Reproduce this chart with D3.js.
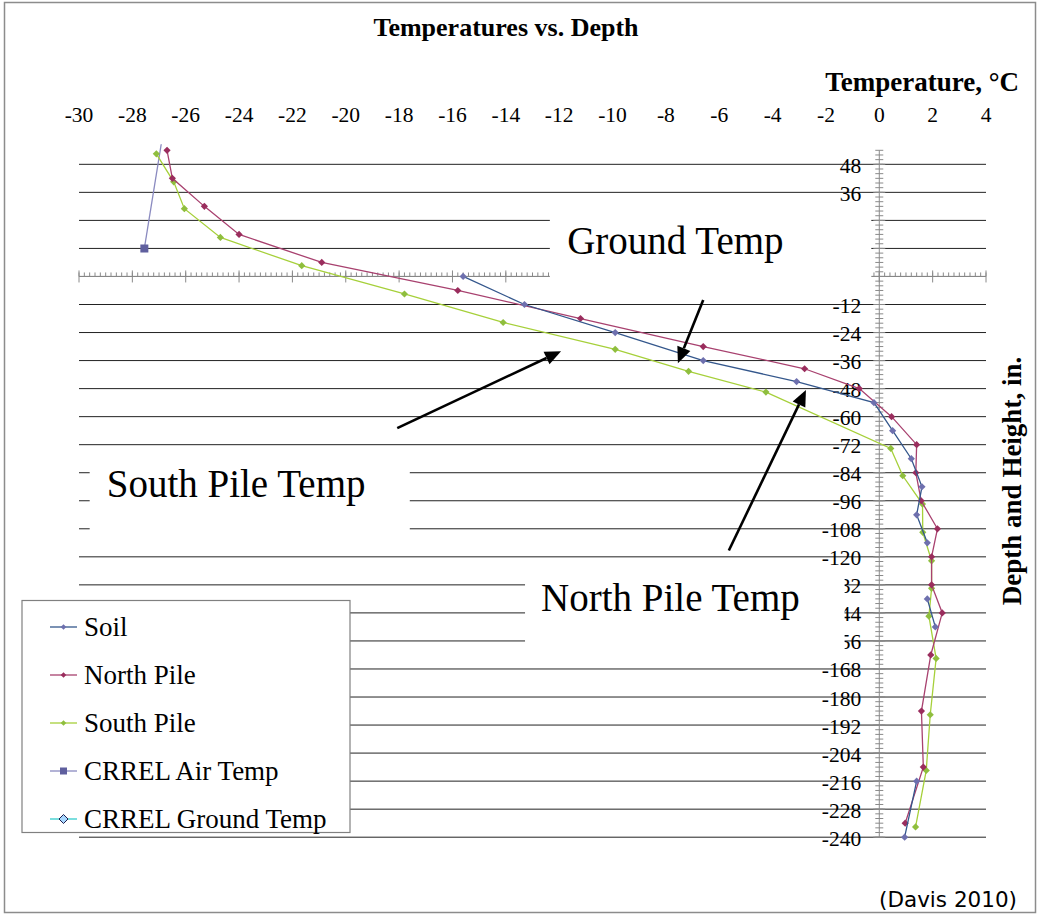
<!DOCTYPE html>
<html>
<head>
<meta charset="utf-8">
<script src="https://cdn.jsdelivr.net/npm/d3@7"></script>
<style>
  html, body { margin: 0; padding: 0; background: #fff; }
  #chart { width: 1040px; height: 915px; }
  text { font-family: 'Liberation Serif', 'Times New Roman', serif; fill: #000; }
</style>
</head>
<body>
<div id="chart"></div>
<script>
// values (temperature in C, depth/height in inches)
const tempTicks = [-30, -28, -26, -24, -22, -20, -18, -16, -14, -12, -10, -8, -6, -4, -2, 0, 2, 4];
const depthTicks = [48, 36, 24, 12, 0, -12, -24, -36, -48, -60, -72, -84, -96, -108, -120, -132, -144,
  -156, -168, -180, -192, -204, -216, -228, -240];

const soilDepth = [0, -12, -24, -36, -45, -54, -66, -78, -90, -102, -114, -126, -138, -150, -162, -216, -240];
const soilTemp = [-15.6, -13.3, -9.9, -6.6, -3.1, -0.2, 0.5, 1.2, 1.6, 1.4, 1.8, null, 1.8, 2.1, null, 1.4, 0.95];

const northDepth = [54, 42, 30, 18, 6, -6, -18, -30, -39.5, -48, -60, -72, -84, -96, -108, -120, -132, -144,
  -162, -186, -210, -234];
const northTemp = [-26.7, -26.5, -25.3, -24.0, -20.9, -15.8, -11.2, -6.6, -2.8, -0.75, 0.46, 1.4, 1.37, 1.57,
  2.18, 1.96, 1.96, 2.36, 1.93, 1.58, 1.65, 0.97];

const southDepth = [52.5, 40.5, 29, 16.7, 4.6, -7.5, -19.7, -31.2, -40.6, -49.5, -73.6, -85.3, -97.4, -109.5,
  -121.7, -133.5, -145.4, -163.5, -187.6, -211.4, -235.6];
const southTemp = [-27.1, -26.45, -26.05, -24.7, -21.65, -17.8, -14.1, -9.9, -7.15, -4.25, 0.43, 0.88, 1.62,
  1.63, 1.96, 1.96, 1.86, 2.13, 1.91, 1.76, 1.36];

const airDepth = [12, 72];
const airTemp = [-27.55, -26.7];

const crrelGroundDepth = [];
const crrelGroundTemp = [];

const seriesNames = ['Soil', 'North Pile', 'South Pile', 'CRREL Air Temp', 'CRREL Ground Temp'];

// callouts, in chart units
const callouts = [
  { text: 'Ground Temp', box: [-12.35, 30.5, -0.3, -7], at: [-11.7, 9.6], from: [-6.6, -10.1], to: [-7.55, -37.1] },
  { text: 'South Pile Temp', box: [-29.6, -76.5, -17.6, -115.5], at: [-28.96, -94.3], from: [-18.07, -64.9], to: [-11.93, -32] },
  { text: 'North Pile Temp', box: [-13.28, -123.5, -1.3, -162.5], at: [-12.68, -143.3], from: [-5.64, -117.3], to: [-2.75, -48.6] },
];

const styles = {
  'Soil': { line: '#34578C', fill: '#6E70AE', stroke: 'none', shape: 'diamond' },
  'North Pile': { line: '#A8416F', fill: '#9A2D5D', stroke: 'none', shape: 'diamond' },
  'South Pile': { line: '#A6D03A', fill: '#8FBE3E', stroke: 'none', shape: 'diamond' },
  'CRREL Air Temp': { line: '#8A8AC0', fill: '#5F5F9E', stroke: 'none', shape: 'square' },
  'CRREL Ground Temp': { line: '#33CCCC', fill: '#A8D8FF', stroke: '#1F1F4F', shape: 'diamond' },
};

const zip = (t, d) => t.map((v, i) => ({ t: v, d: d[i] }));
const series = [
  { name: 'Soil', values: zip(soilTemp, soilDepth) },
  { name: 'North Pile', values: zip(northTemp, northDepth) },
  { name: 'South Pile', values: zip(southTemp, southDepth) },
  { name: 'CRREL Air Temp', values: zip(airTemp, airDepth) },
  { name: 'CRREL Ground Temp', values: zip(crrelGroundTemp, crrelGroundDepth) },
];

function markerPath(shape, r) {
  if (shape === 'square') return `M${-r},${-r}H${r}V${r}H${-r}Z`;
  return `M0,${-r}L${r},0L0,${r}L${-r},0Z`;
}

function render() {
  const svg = d3.select('#chart').append('svg')
    .attr('width', 1040)
    .attr('height', 915);

  svg.append('rect')
    .attr('x', 4.5).attr('y', 2.5)
    .attr('width', 1031).attr('height', 910)
    .attr('fill', '#fff')
    .attr('stroke', '#8c8c8c')
    .attr('stroke-width', 1.5);

  const x = d3.scaleLinear().domain([-30, 4]).range([79, 986]);
  const y = d3.scaleLinear().domain([54, -240]).range([150.3, 837.2]);

  // gridlines
  svg.append('g')
    .selectAll('line')
    .data(depthTicks)
    .join('line')
    .attr('x1', x(-30)).attr('x2', x(4))
    .attr('y1', d => y(d)).attr('y2', d => y(d))
    .attr('stroke', '#222')
    .attr('stroke-width', 1);

  // x axis crosses at depth 0, y axis crosses at temperature 0
  const axisCol = '#8a8a8a';
  const ax = svg.append('g').attr('stroke', axisCol).attr('stroke-width', 1);
  ax.append('line').attr('x1', x(-30)).attr('x2', x(4)).attr('y1', y(0)).attr('y2', y(0));
  ax.selectAll('.xminor')
    .data(d3.range(-30, 4.01, 0.2))
    .join('line')
    .attr('x1', d => x(d)).attr('x2', d => x(d))
    .attr('y1', y(0) - 4).attr('y2', y(0));
  ax.selectAll('.xmajor')
    .data(tempTicks)
    .join('line')
    .attr('x1', d => x(d)).attr('x2', d => x(d))
    .attr('y1', y(0) - 6).attr('y2', y(0) + 6);

  ax.append('line').attr('x1', x(0)).attr('x2', x(0)).attr('y1', y(54)).attr('y2', y(-240));
  ax.selectAll('.yminor')
    .data(d3.range(-240, 54.01, 2))
    .join('line')
    .attr('x1', x(0) - 4).attr('x2', x(0) + 4)
    .attr('y1', d => y(d)).attr('y2', d => y(d));
  ax.selectAll('.ymajor')
    .data(depthTicks)
    .join('line')
    .attr('x1', x(0) - 6).attr('x2', x(0) + 6)
    .attr('y1', d => y(d)).attr('y2', d => y(d));

  svg.append('g')
    .selectAll('text')
    .data(tempTicks)
    .join('text')
    .attr('x', d => x(d))
    .attr('y', 122)
    .attr('text-anchor', 'middle')
    .style('font-size', '21.5px')
    .text(d => String(d));

  svg.append('g')
    .selectAll('text')
    .data(depthTicks)
    .join('text')
    .attr('x', x(0) - 18)
    .attr('y', d => y(d) + 8.5)
    .attr('text-anchor', 'end')
    .style('font-size', '21.5px')
    .text(d => String(d));

  // white callout boxes sit over the grid
  const co = svg.append('g');
  co.selectAll('rect')
    .data(callouts)
    .join('rect')
    .attr('x', d => x(d.box[0]))
    .attr('y', d => y(d.box[1]))
    .attr('width', d => x(d.box[2]) - x(d.box[0]))
    .attr('height', d => y(d.box[3]) - y(d.box[1]))
    .attr('fill', '#fff');
  co.selectAll('text')
    .data(callouts)
    .join('text')
    .attr('x', d => x(d.at[0]))
    .attr('y', d => y(d.at[1]))
    .style('font-size', '39px')
    .text(d => d.text);

  // series
  svg.append('clipPath').attr('id', 'plotclip')
    .append('rect')
    .attr('x', x(-30)).attr('y', y(54) - 6)
    .attr('width', x(4) - x(-30)).attr('height', y(-240) - y(54) + 12);

  const line = d3.line()
    .defined(d => d.t != null)
    .x(d => x(d.t))
    .y(d => y(d.d));

  const plot = svg.append('g').attr('clip-path', 'url(#plotclip)');
  const order = ['CRREL Air Temp', 'South Pile', 'North Pile', 'Soil', 'CRREL Ground Temp'];
  order.forEach(name => {
    const s = series.find(v => v.name === name);
    const st = styles[name];
    plot.append('path')
      .datum(s.values)
      .attr('fill', 'none')
      .attr('stroke', st.line)
      .attr('stroke-width', 1.3)
      .attr('d', line);
    plot.append('g')
      .selectAll('path')
      .data(s.values.filter(d => d.t != null))
      .join('path')
      .attr('transform', d => `translate(${x(d.t)},${y(d.d)})`)
      .attr('d', markerPath(st.shape, st.shape === 'square' ? 4 : 3.6))
      .attr('fill', st.fill)
      .attr('stroke', st.stroke);
  });

  // arrows
  const arrows = svg.append('g');
  callouts.forEach(c => {
    const x0 = x(c.from[0]), y0 = y(c.from[1]);
    const x1 = x(c.to[0]), y1 = y(c.to[1]);
    const a = Math.atan2(y1 - y0, x1 - x0);
    const len = 16, half = 7;
    const bx = x1 - len * Math.cos(a), by = y1 - len * Math.sin(a);
    arrows.append('line')
      .attr('x1', x0).attr('y1', y0)
      .attr('x2', bx).attr('y2', by)
      .attr('stroke', '#000')
      .attr('stroke-width', 2.6);
    arrows.append('path')
      .attr('d', `M${x1},${y1}L${bx + half * Math.sin(a)},${by - half * Math.cos(a)}` +
        `L${bx - half * Math.sin(a)},${by + half * Math.cos(a)}Z`)
      .attr('fill', '#000');
  });

  // legend
  const lg = svg.append('g');
  lg.append('rect')
    .attr('x', 22).attr('y', 600.5)
    .attr('width', 328).attr('height', 232)
    .attr('fill', '#fff')
    .attr('stroke', '#808080')
    .attr('stroke-width', 1.2);
  const items = lg.selectAll('g')
    .data(seriesNames)
    .join('g')
    .attr('transform', (d, i) => `translate(0,${627 + i * 48})`);
  items.append('line')
    .attr('x1', 50).attr('x2', 77)
    .attr('stroke', d => styles[d].line)
    .attr('stroke-width', 1.3);
  items.append('path')
    .attr('transform', 'translate(63.5,0)')
    .attr('d', d => markerPath(styles[d].shape, styles[d].shape === 'square' ? 3.5 : (d === 'CRREL Ground Temp' ? 4.5 : 2.8)))
    .attr('fill', d => styles[d].fill)
    .attr('stroke', d => styles[d].stroke);
  items.append('text')
    .attr('x', 84)
    .attr('y', 9)
    .style('font-size', '27px')
    .text(d => d);

  // titles
  svg.append('text')
    .attr('x', 506).attr('y', 36)
    .attr('text-anchor', 'middle')
    .style('font-size', '26px')
    .style('font-weight', 'bold')
    .text('Temperatures vs. Depth');

  svg.append('text')
    .attr('x', 1019).attr('y', 91)
    .attr('text-anchor', 'end')
    .style('font-size', '27px')
    .style('font-weight', 'bold')
    .text('Temperature, \u00B0C');

  svg.append('text')
    .attr('transform', 'translate(1021,481) rotate(-90)')
    .attr('text-anchor', 'middle')
    .style('font-size', '27px')
    .style('font-weight', 'bold')
    .text('Depth and Height, in.');

  svg.append('text')
    .attr('x', 1017).attr('y', 907)
    .attr('text-anchor', 'end')
    .style('font-family', "'DejaVu Sans', Verdana, sans-serif")
    .style('font-size', '21.5px')
    .text('(Davis 2010)');
}

render();
</script>
</body>
</html>
